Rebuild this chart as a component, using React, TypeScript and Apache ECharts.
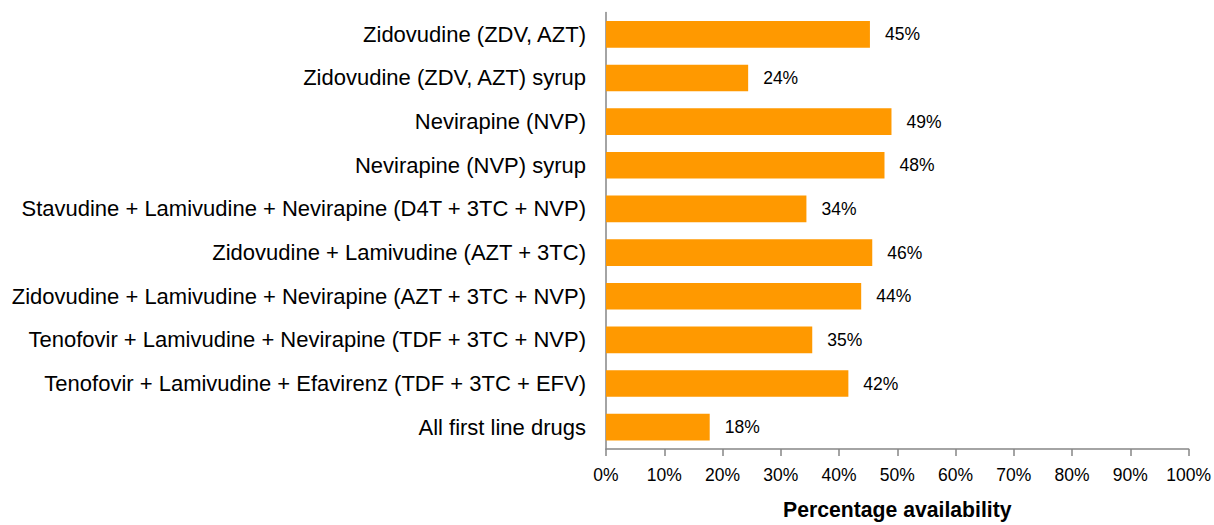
import React, { useEffect, useRef } from "react";
import * as echarts from "echarts";

const categories = [
  "Zidovudine (ZDV, AZT)",
  "Zidovudine (ZDV, AZT) syrup",
  "Nevirapine (NVP)",
  "Nevirapine (NVP) syrup",
  "Stavudine + Lamivudine + Nevirapine (D4T + 3TC + NVP)",
  "Zidovudine + Lamivudine (AZT + 3TC)",
  "Zidovudine + Lamivudine + Nevirapine (AZT + 3TC + NVP)",
  "Tenofovir + Lamivudine + Nevirapine (TDF + 3TC + NVP)",
  "Tenofovir + Lamivudine + Efavirenz (TDF + 3TC + EFV)",
  "All first line drugs",
];
const values = [45.3, 24.4, 49.0, 47.8, 34.4, 45.7, 43.8, 35.4, 41.6, 17.8];
const axisTitle = "Percentage availability";

export default function App() {
  const ref = useRef<HTMLDivElement>(null);
  useEffect(() => {
    if (!ref.current) return;
    const chart = echarts.init(ref.current, undefined, { renderer: "svg" });
    const font = "Liberation Sans, Arial, sans-serif";
    chart.setOption({
      animation: false,
      grid: { left: 606, right: 24, top: 12.5, bottom: 75, containLabel: false },
      xAxis: {
        type: "value",
        min: 0,
        max: 100,
        interval: 10,
        name: axisTitle,
        nameLocation: "middle",
        nameGap: 50,
        nameTextStyle: { fontFamily: font, fontSize: 21.2, fontWeight: "bold", color: "#000" },
        axisLine: { show: true, lineStyle: { color: "#868686", width: 1.5 } },
        axisTick: { show: true, length: 7, lineStyle: { color: "#868686", width: 1.5 } },
        axisLabel: { formatter: "{value}%", fontFamily: font, fontSize: 17.5, color: "#000", margin: 17 },
        splitLine: { show: false },
      },
      yAxis: {
        type: "category",
        data: categories,
        inverse: true,
        axisLine: { show: true, lineStyle: { color: "#868686", width: 1.5 } },
        axisTick: { show: false },
        axisLabel: { fontFamily: font, fontSize: 22, color: "#000", margin: 20 },
      },
      series: [
        {
          type: "bar",
          data: values,
          barCategoryGap: "39%",
          itemStyle: { color: "#FF9900" },
          label: {
            show: true,
            position: "right",
            distance: 15,
            fontFamily: font,
            fontSize: 17.5,
            color: "#000",
            formatter: (p: any) => Math.round(p.value) + "%",
          },
        },
      ],
    });
    return () => chart.dispose();
  }, []);
  return <div ref={ref} style={{ width: 1214, height: 525, position: "absolute", left: 0, top: 0 }} />;
}
